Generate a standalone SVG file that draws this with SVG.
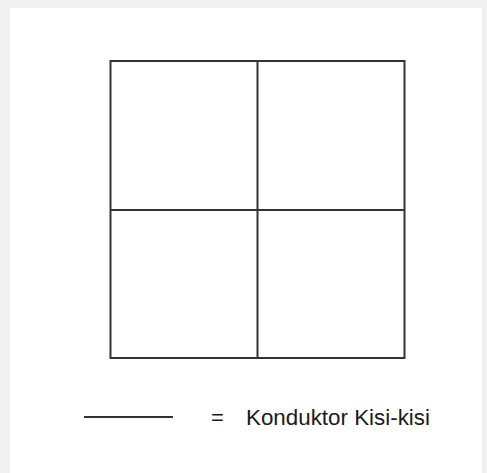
<svg xmlns="http://www.w3.org/2000/svg" width="487" height="473" viewBox="0 0 487 473">
<style>
.ln{stroke:#333;stroke-width:2;fill:none}
.t{font-family:"Liberation Sans",Arial,sans-serif;font-size:22px;fill:#1a1a1a}
</style>
<rect width="487" height="473" fill="#f1f1f1"/>
<rect x="10" y="8" width="472" height="465" fill="#fff"/>
<g id="grid">
<rect class="ln" x="110.5" y="61" width="294" height="297"/>
</g>
<g id="connectors">
<line class="ln" x1="257.5" y1="61" x2="257.5" y2="358"/>
<line class="ln" x1="110.5" y1="210" x2="404.5" y2="210"/>
</g>
<g id="legend">
<line class="ln" x1="84" y1="417" x2="173" y2="417"/>
<text class="t" x="211" y="425">=</text>
<text class="t" x="246" y="425" textLength="184" lengthAdjust="spacingAndGlyphs">Konduktor Kisi-kisi</text>
</g>
</svg>
